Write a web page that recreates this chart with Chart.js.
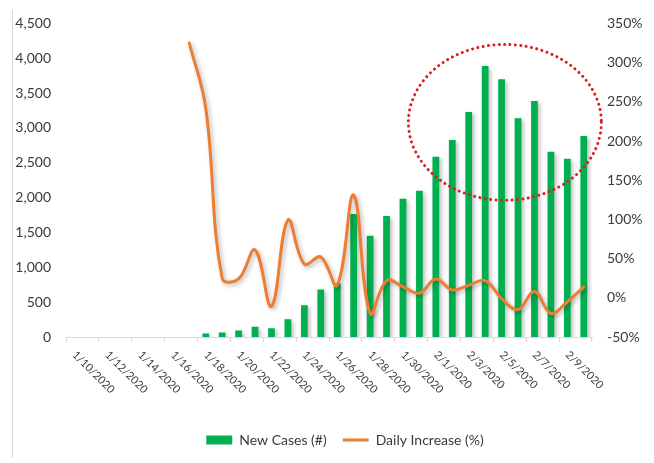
<!DOCTYPE html>
<html>
<head>
<meta charset="utf-8">
<script src="https://cdn.jsdelivr.net/npm/chart.js@4.4.1/dist/chart.umd.min.js"></script>
<style>
  html, body { margin: 0; padding: 0; background: #fff; }
  .chart-wrap { position: relative; width: 654px; height: 463px; }
  .chart-wrap .frame {
    position: absolute;
    left: 12px;
    top: 10px;
    height: 448px;
    border-left: 1px solid #d9d9d9;
  }
</style>
</head>
<body>
<div class="chart-wrap">
  <div class="frame"></div>
  <canvas id="chart" width="654" height="463"></canvas>
</div>
<script>
  // one category per day, 1/10/2020 .. 2/10/2020 (labels shown every other day)
  const dates = [
    "1/10/2020", "1/11/2020", "1/12/2020", "1/13/2020", "1/14/2020", "1/15/2020",
    "1/16/2020", "1/17/2020", "1/18/2020", "1/19/2020", "1/20/2020", "1/21/2020",
    "1/22/2020", "1/23/2020", "1/24/2020", "1/25/2020", "1/26/2020", "1/27/2020",
    "1/28/2020", "1/29/2020", "1/30/2020", "1/31/2020", "2/1/2020", "2/2/2020",
    "2/3/2020", "2/4/2020", "2/5/2020", "2/6/2020", "2/7/2020", "2/8/2020",
    "2/9/2020", "2/10/2020"
  ];
  const LABEL_EVERY = 2;

  const newCases = [
    null, null, null, null, null, null, null, null,
    50, 65, 92, 148, 125, 255, 455, 680,
    768, 1765, 1452, 1737, 1984, 2100, 2585, 2828,
    3230, 3887, 3697, 3140, 3388, 2657, 2557, 2886
  ];

  const dailyIncrease = [
    null, null, null, null, null, null, null, 325,
    242, 25, 24, 61, -11, 99, 43, 52,
    16, 131, -20, 22, 14, 6, 24, 10,
    16, 22, -1, -15, 8, -20, -5, 14
  ];

  const casesTicks = { min: 0, max: 4500, step: 500 };
  const pctTicks = { min: -50, max: 350, step: 50 };

  // red dotted ring drawn round the peak days (category index / case units)
  const highlight = { center: 26.2, halfWidth: 5.87, value: 3080, halfHeight: 1118 };

  const TEXT = "#3a3a3a";
  const AXIS = "#d9d9d9";
  Chart.defaults.font.family = "Lato, 'Open Sans', sans-serif";
  Chart.defaults.color = TEXT;

  const shadowPlugin = {
    id: "shadow",
    beforeDatasetDraw(chart) {
      const ctx = chart.ctx;
      ctx.save();
      ctx.shadowColor = "rgba(0,0,0,0.28)";
      ctx.shadowBlur = 4;
      ctx.shadowOffsetX = 2;
      ctx.shadowOffsetY = 2;
    },
    afterDatasetDraw(chart) {
      chart.ctx.restore();
    },
  };

  const ringPlugin = {
    id: "ring",
    afterDatasetsDraw(chart) {
      const { x, y } = chart.scales;
      const ctx = chart.ctx;
      const cx = x.getPixelForValue(highlight.center);
      const rx = x.getPixelForValue(highlight.center + highlight.halfWidth) - cx;
      const cy = y.getPixelForValue(highlight.value);
      const ry = cy - y.getPixelForValue(highlight.value + highlight.halfHeight);
      ctx.save();
      ctx.strokeStyle = "#dd1c1c";
      ctx.lineWidth = 3;
      ctx.lineCap = "round";
      ctx.setLineDash([0.01, 5.4]);
      ctx.beginPath();
      ctx.ellipse(cx, cy, rx, ry, 0, 0, Math.PI * 2);
      ctx.stroke();
      ctx.restore();
    },
  };

  // date labels turned 45deg clockwise, reading down to the right
  const xLabelPlugin = {
    id: "xLabels",
    afterLayout(chart) {
      // legend sits a little right of centre in the source
      chart.legend.left += 18;
      chart.legend.right += 18;
    },
    afterDraw(chart) {
      const x = chart.scales.x;
      const ctx = chart.ctx;
      ctx.save();
      ctx.strokeStyle = AXIS;
      ctx.lineWidth = 1;
      ctx.beginPath();
      ctx.moveTo(Math.round(x.right) - 0.5, x.top);
      ctx.lineTo(Math.round(x.right) - 0.5, x.top + 5);
      ctx.stroke();

      ctx.font = "11px Lato, 'Open Sans', sans-serif";
      ctx.fillStyle = TEXT;
      ctx.textAlign = "left";
      ctx.textBaseline = "middle";
      dates.forEach((d, i) => {
        if (i % LABEL_EVERY) return;
        ctx.save();
        ctx.translate(x.getPixelForValue(i), x.top + 16);
        ctx.rotate(Math.PI / 4);
        ctx.fillText(d, 0, 0);
        ctx.restore();
      });
      ctx.restore();
    },
  };

  new Chart(document.getElementById("chart"), {
    type: "bar",
    data: {
      labels: dates,
      datasets: [
        {
          type: "bar",
          label: "New Cases (#)",
          data: newCases,
          yAxisID: "y",
          backgroundColor: "#00b050",
          barPercentage: 0.41,
          categoryPercentage: 1.0,
          pointStyle: "rect",
          order: 2,
        },
        {
          type: "line",
          label: "Daily Increase (%)",
          data: dailyIncrease,
          yAxisID: "y1",
          borderColor: "#ed7d31",
          backgroundColor: "#ed7d31",
          borderWidth: 3,
          borderCapStyle: "round",
          borderJoinStyle: "round",
          pointRadius: 0,
          tension: 0.4,
          fill: false,
          pointStyle: "line",
          order: 1,
        },
      ],
    },
    options: {
      responsive: false,
      animation: false,
      layout: { padding: { top: 22, bottom: 6, left: 0, right: 0 } },
      plugins: {
        tooltip: { enabled: false },
        legend: {
          position: "bottom",
          labels: {
            usePointStyle: true,
            pointStyleWidth: 26,
            boxHeight: 9,
            padding: 16,
            color: TEXT,
            font: { size: 14 },
            sort: (a, b) => a.datasetIndex - b.datasetIndex,
          },
        },
      },
      scales: {
        x: {
          type: "category",
          offset: true,
          grid: {
            offset: true,
            drawOnChartArea: false,
            tickLength: 5,
            color: (c) => (c.index % LABEL_EVERY === 0 ? AXIS : "rgba(0,0,0,0)"),
          },
          border: { display: true, color: AXIS },
          ticks: { display: false },
          afterFit: (s) => { s.height = 80; },
        },
        y: {
          position: "left",
          min: casesTicks.min,
          max: casesTicks.max,
          grid: { display: false, drawTicks: false },
          border: { display: false },
          ticks: {
            stepSize: casesTicks.step,
            padding: 15,
            font: { size: 14 },
            color: TEXT,
            callback: (v) => v.toLocaleString("en-US"),
          },
          afterFit: (s) => { s.width = 66; },
        },
        y1: {
          position: "right",
          min: pctTicks.min,
          max: pctTicks.max,
          grid: { display: false, drawTicks: false },
          border: { display: false },
          ticks: {
            stepSize: pctTicks.step,
            padding: 15,
            font: { size: 14 },
            color: TEXT,
            callback: (v) => v + "%",
          },
          afterFit: (s) => { s.width = 62; },
        },
      },
    },
    plugins: [shadowPlugin, ringPlugin, xLabelPlugin],
  });
</script>
</body>
</html>
